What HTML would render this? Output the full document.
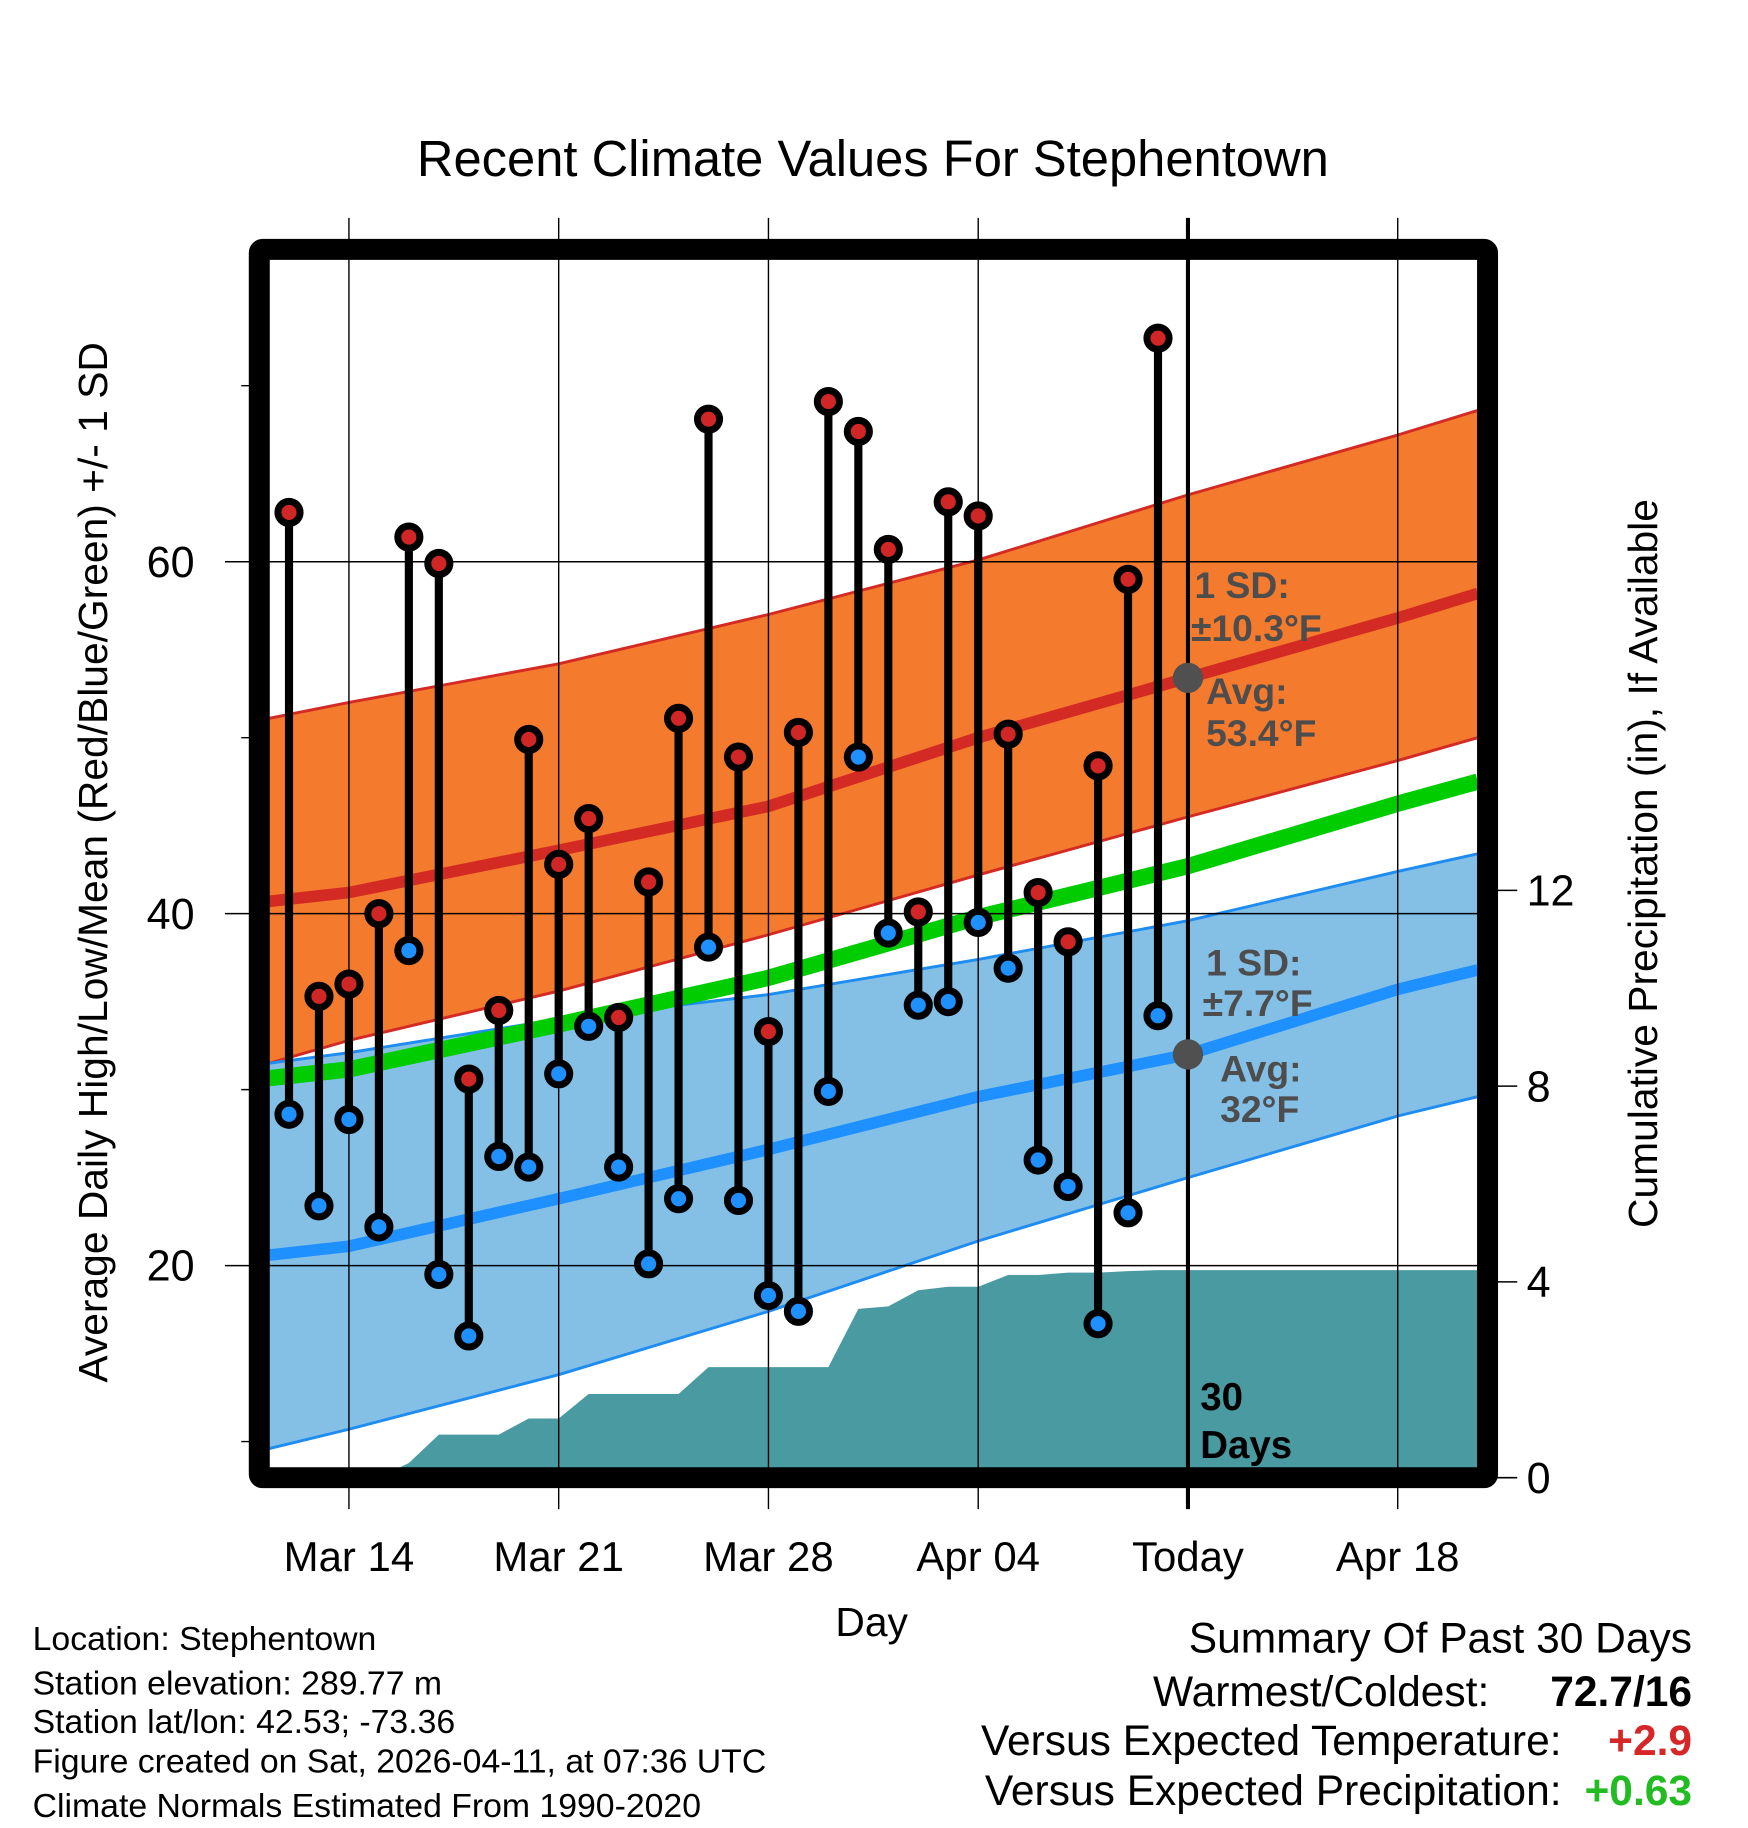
<!DOCTYPE html>
<html><head><meta charset="utf-8"><style>
html,body{margin:0;padding:0;background:#fff;}
svg{display:block;font-family:"Liberation Sans",Arial,sans-serif;}
</style></head><body>
<svg id="chart" width="1748" height="1828" viewBox="0 0 1500 1568.6" preserveAspectRatio="none" xmlns="http://www.w3.org/2000/svg">
<text x="749" y="151" font-size="43.5" text-anchor="middle">Recent Climate Values For Stephentown</text>
<g id="layer"></g>
</svg>
<script>
const days = ["Mar12","Mar13","Mar14","Mar15","Mar16","Mar17","Mar18","Mar19","Mar20","Mar21","Mar22","Mar23","Mar24","Mar25","Mar26","Mar27","Mar28","Mar29","Mar30","Mar31","Apr01","Apr02","Apr03","Apr04","Apr05","Apr06","Apr07","Apr08","Apr09","Apr10"];
const highs = [62.8,35.3,36.0,40.0,61.4,59.9,30.6,34.5,49.9,42.8,45.4,34.1,41.8,51.1,68.1,48.9,33.3,50.3,69.1,67.4,60.7,40.1,63.4,62.6,50.2,41.2,38.4,48.4,59.0,72.7];
const lows = [28.6,23.4,28.3,22.2,37.9,19.5,16.0,26.2,25.6,30.9,33.6,25.6,20.1,23.8,38.1,23.7,18.3,17.4,29.9,48.9,38.9,34.8,35.0,39.5,36.9,26.0,24.5,16.7,23.0,34.2];
const precip = [0,0,0,0,0.3,0.88,0.88,0.88,1.21,1.21,1.71,1.71,1.71,1.71,2.26,2.26,2.26,2.26,2.26,3.45,3.5,3.83,3.9,3.9,4.14,4.14,4.19,4.19,4.22,4.24];
const normDays = [-0.66,2,9,16,23,30,37,39.67];
const highUpper = [51.1,52.0,54.2,57.0,60.1,63.8,67.2,68.6];
const highAvg = [40.7,41.2,43.6,46.1,50.0,53.4,56.8,58.2];
const highLower = [31.5,32.8,35.6,38.8,42.2,45.5,48.7,50.0];
const lowUpper = [31.5,32.1,34.0,35.4,37.4,39.6,42.4,43.4];
const lowAvg = [20.6,21.1,23.8,26.6,29.6,32.0,35.7,36.8];
const lowLower = [9.6,10.7,13.8,17.4,21.4,25.0,28.5,29.6];
const xTickLabels = ["Mar 14","Mar 21","Mar 28","Apr 04","Today","Apr 18"];
const xTickDays = [2,9,16,23,30,37];
const yTicks = [20,40,60];
const yMinor = [10,30,50,70];
const pTicks = [0,4,8,12];

const NS="http://www.w3.org/2000/svg";
const L=document.getElementById('layer');
const X0=231, X1=1268, Y0=223, Y1=1260;
function x(d){return 248+d*25.714;}
function y(t){return 482+(60-t)*15.1;}
function yp(p){return 1268-p*42;}
function el(tag,a,parent){const e=document.createElementNS(NS,tag);for(const k in a)e.setAttribute(k,a[k]);(parent||L).appendChild(e);return e;}
function pts(arr){return normDays.map((d,i)=>x(d)+','+y(arr[i]));}

const defs=el('defs',{});const cp=el('clipPath',{id:'pc'},defs);el('rect',{x:X0,y:Y0,width:X1-X0,height:Y1-Y0},cp);
const g=el('g',{'clip-path':'url(#pc)'});

function band(up,lo,fill,edge,name){
  const p=el('polygon',{points:pts(up).concat(pts(lo).reverse()).join(' '),fill:fill},g);
  
  
  [up,lo].forEach(a=>{const l=el('polyline',{points:pts(a).join(' '),fill:'none',stroke:edge,'stroke-width':2.5},g);
  
  });
}
band(highUpper,highLower,'#f47a2e','#d42a24','normal-high');
band(lowUpper,lowLower,'#84c0e6','#1e8cf0','normal-low');
function mline(arr,col,w,name){const l=el('polyline',{points:pts(arr).join(' '),fill:'none',stroke:col,'stroke-width':w},g);

}
mline(highAvg,'#d42a24',10,'normal-high-line');
mline(lowAvg,'#1e90ff',10,'normal-low-line');
mline(highAvg.map((v,i)=>(v+lowAvg[i])/2),'#00cc00',14,'normal-mean-line');

let pp=[[X0,yp(0)]];
precip.forEach((v,i)=>pp.push([x(i),yp(v)]));
pp.push([X1,yp(precip[precip.length-1])]);pp.push([X1,yp(0)]);
const area=el('polygon',{points:pp.map(q=>q.join(',')).join(' '),fill:'#4a9aa2'},g);



xTickDays.forEach((d,i)=>{
  const today=xTickLabels[i]==='Today';
  const gl=el('line',{x1:x(d),y1:187,x2:x(d),y2:1295,stroke:'#000','stroke-width':today?3.5:1.2});
  
  
  const t=el('text',{x:x(d),y:1348,'font-size':36,'text-anchor':'middle'});t.textContent=xTickLabels[i];
  
  
});
yTicks.forEach(v=>{
  const gl=el('line',{x1:193,y1:y(v),x2:X1,y2:y(v),stroke:'#000','stroke-width':1.3});
  
  
  const t=el('text',{x:167,y:y(v)+13,'font-size':37,'text-anchor':'end'});t.textContent=v;
  
  
});
yMinor.forEach(v=>{const m=el('line',{x1:207,y1:y(v),x2:222,y2:y(v),stroke:'#000','stroke-width':1.2});

});
pTicks.forEach(v=>{
  const m=el('line',{x1:1276,y1:yp(v),x2:1302,y2:yp(v),stroke:'#000','stroke-width':1.3});
  
  
  const t=el('text',{x:1310,y:yp(v)+13,'font-size':37});t.textContent=v;
  
  
});

const ti=normDays.indexOf(30);
[[highAvg[ti],'avg-high-marker'],[lowAvg[ti],'avg-low-marker']].forEach(a=>{const c=el('circle',{cx:x(30),cy:y(a[0]),r:13,fill:'#505050'});

});
const ann=[[1025,513,'1 SD:'],[1022,550,'±10.3°F'],[1035,604,'Avg:'],[1035,640,'53.4°F'],[1035,837,'1 SD:'],[1032,872,'±7.7°F'],[1047,928,'Avg:'],[1047,963,'32°F']];
ann.forEach(a=>{const t=el('text',{x:a[0],y:a[1],'font-size':32,'font-weight':'bold',fill:'#4d4d4d'});t.textContent=a[2];

});
[[1030,1210,'30'],[1030,1251,'Days']].forEach(a=>{const t=el('text',{x:a[0],y:a[1],'font-size':33,'font-weight':'bold'});t.textContent=a[2];

});

days.forEach((d,i)=>{
  const s=el('line',{x1:x(i),y1:y(highs[i]),x2:x(i),y2:y(lows[i]),stroke:'#000','stroke-width':7});
  
  
});
days.forEach((d,i)=>{
  [[highs[i],'#d02626','high-marker'],[lows[i],'#1e90ff','low-marker']].forEach(m=>{
    const c=el('circle',{cx:x(i),cy:y(m[0]),r:9.5,fill:m[1],stroke:'#000','stroke-width':6});
    
    
  });
});

const fr=el('rect',{x:222.5,y:214,width:1054,height:1054,fill:'none',stroke:'#000','stroke-width':18,rx:3});



const yl=el('text',{x:0,y:0,'font-size':35,'text-anchor':'middle',transform:'translate(92,740) rotate(-90)'});yl.textContent='Average Daily High/Low/Mean (Red/Blue/Green) +/- 1 SD';


const yr=el('text',{x:0,y:0,'font-size':35,'text-anchor':'middle',transform:'translate(1422,741) rotate(-90)'});yr.textContent='Cumulative Precipitation (in), If Available';


const xl=el('text',{x:748,y:1404,'font-size':35,'text-anchor':'middle'});xl.textContent='Day';



const info=[[1416,'Location: Stephentown'],[1454,'Station elevation: 289.77 m'],[1487,'Station lat/lon: 42.53; -73.36'],[1521,'Figure created on Sat, 2026-04-11, at 07:36 UTC'],[1559,'Climate Normals Estimated From 1990-2020']];
info.forEach(a=>{const t=el('text',{x:28,y:a[0],'font-size':29});t.textContent=a[1];

});
const sum=[[1418,'Summary Of Past 30 Days',1452,null,null],[1464,'Warmest/Coldest:',1278,'72.7/16','#000'],[1506,'Versus Expected Temperature:',1340,'+2.9','#d62728'],[1549,'Versus Expected Precipitation:',1340,'+0.63','#22bb22']];
sum.forEach(a=>{const t=el('text',{x:a[2],y:a[0],'font-size':36.5,'text-anchor':'end'});t.textContent=a[1];


if(a[3]){const v=el('text',{x:1452,y:a[0],'font-size':36.5,'font-weight':'bold','text-anchor':'end',fill:a[4]});v.textContent=a[3];

}});
</script>
</body></html>
